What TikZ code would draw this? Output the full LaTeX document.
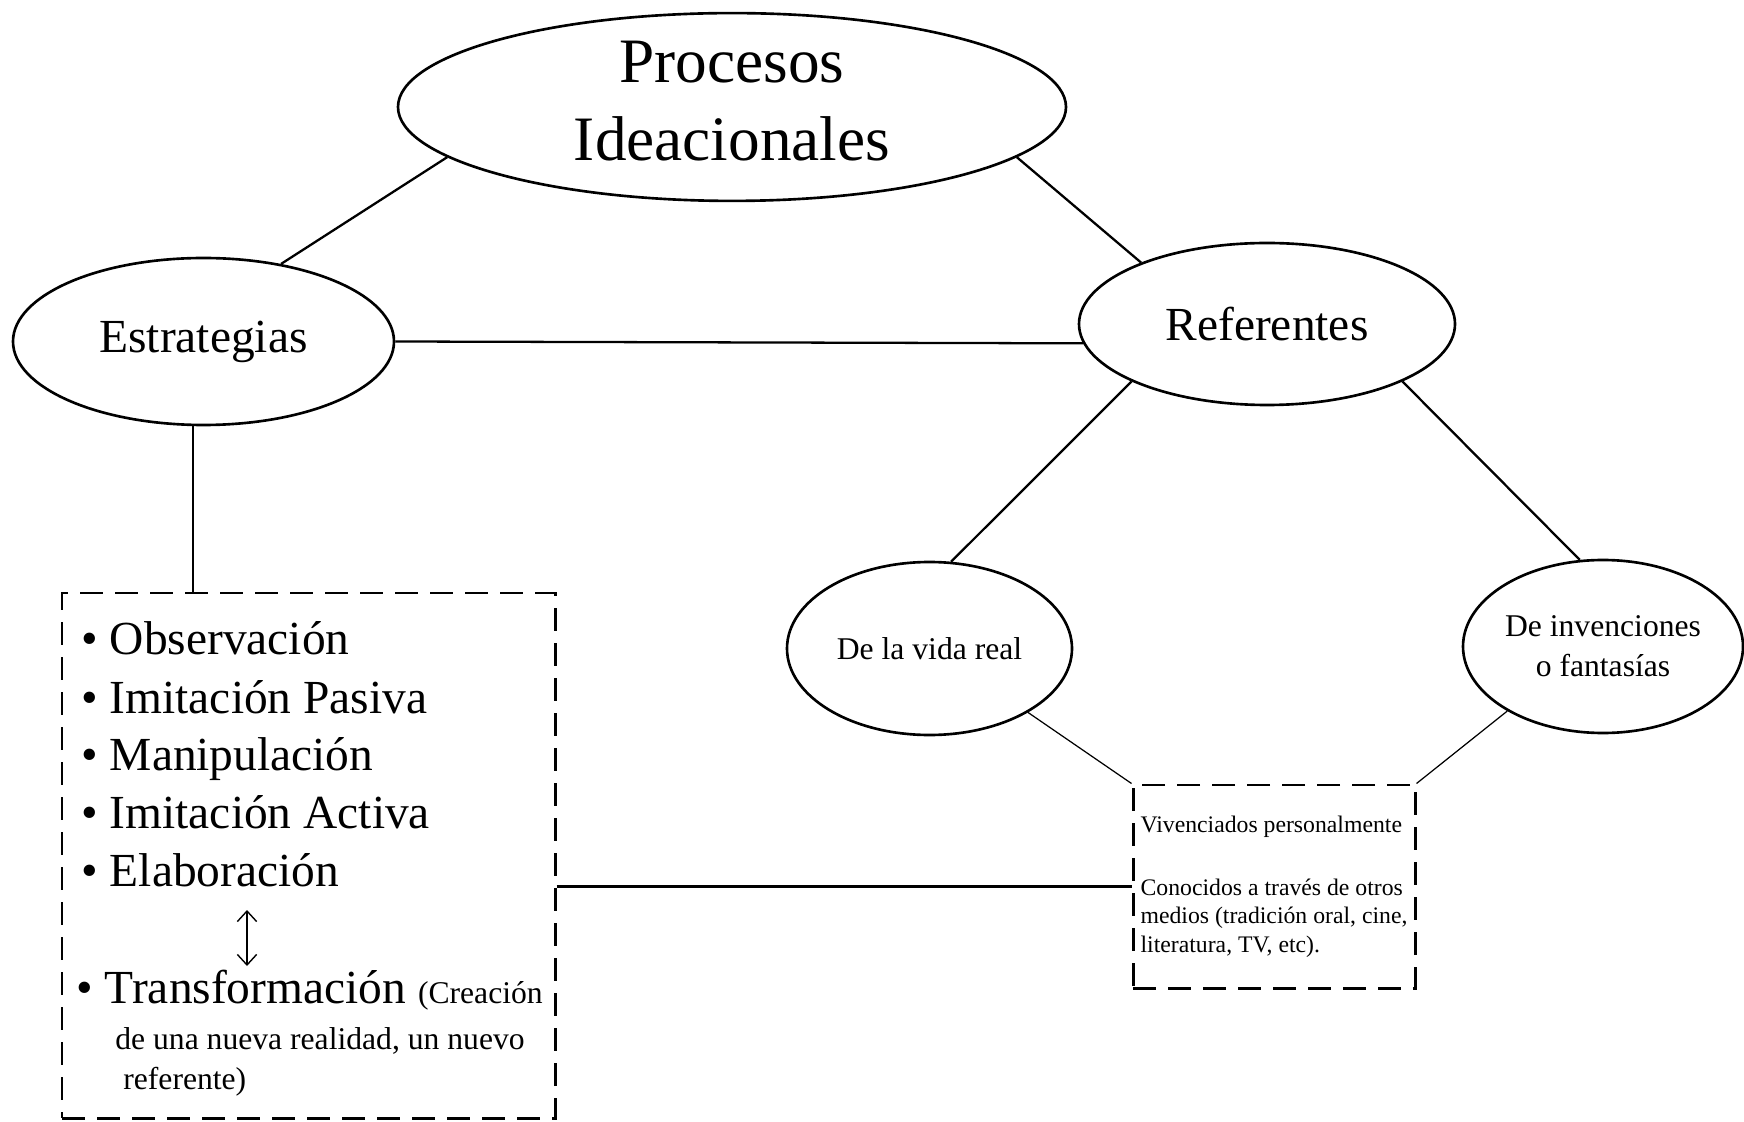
\documentclass[tikz,border=0pt]{standalone}
\usepackage{fontspec}
\setmainfont{Liberation Serif}
\usepackage{tikz}
\usetikzlibrary{shapes.geometric, arrows.meta}

\begin{document}
\begin{tikzpicture}[
        bubble/.style={ellipse, draw, line width=1.5pt, inner sep=0pt, align=center},
        dashbox/.style={rectangle, draw, line width=1.7pt, dash pattern=on 0.46cm off 0.24cm, inner sep=0pt},
        link/.style={line width=1.3pt},
        thinlink/.style={line width=0.7pt},
        item/.style={anchor=base west, inner sep=0pt, font=\fontsize{27}{33}\selectfont},
        smallitem/.style={anchor=base west, inner sep=0pt, font=\fontsize{18}{22.8}\selectfont}
    ]
        \useasboundingbox (0,0) rectangle (34.88,22.42);
        \node[bubble, minimum width=13.36cm, minimum height=3.68cm, font=\fontsize{36}{44.4}\selectfont] (Procesos) at (14.64,20.28) {Procesos\\Ideacionales\rule[-7.6pt]{0pt}{7.6pt}};
        \node[bubble, minimum width=7.62cm, minimum height=3.34cm, font=\fontsize{27}{33}\selectfont] (Estrategias) at (4.07,15.59) {Estrategias};
        \node[bubble, minimum width=7.52cm, minimum height=3.24cm, font=\fontsize{27}{33}\selectfont] (Referentes) at (25.34,15.94) {Referentes};
        \node[bubble, minimum width=5.70cm, minimum height=3.46cm, font=\fontsize{18}{22.8}\selectfont] (VidaReal) at (18.59,9.45) {De la vida real};
        \node[bubble, minimum width=5.60cm, minimum height=3.46cm, font=\fontsize{18}{22.8}\selectfont] (Invenciones) at (32.06,9.49) {De invenciones\\o fantasías};
        \node[dashbox, minimum width=9.86cm, minimum height=10.50cm] (Lista) at (6.17,5.31) { };
        \node[item] (Observacion) at (1.62,9.34) {• Observación};
        \node[item] (ImitPasiva) at (1.62,8.16) {• Imitación Pasiva};
        \node[item] (Manipulacion) at (1.62,7.02) {• Manipulación};
        \node[item] (ImitActiva) at (1.62,5.86) {• Imitación Activa};
        \node[item] (Elaboracion) at (1.62,4.70) {• Elaboración};
        \node[item] (Transformacion) at (1.52,2.36) {• Transformación {\fontsize{18}{22.8}\selectfont (Creación}};
        \node[smallitem] (Creacion) at (2.30,1.44) {de una nueva realidad, un nuevo};
        \node[smallitem] (Referente) at (2.46,0.64) {referente)};
        \node[dashbox, minimum width=5.64cm, minimum height=4.06cm, align=left, font=\fontsize{13.5}{16.2}\selectfont] (Medios) at (25.48,4.69) {Vivenciados personalmente\\[19.6pt]Conocidos a través de otros\\medios (tradición oral, cine,\\literatura, TV, etc).};
        \coordinate (FlechaA) at (4.94,4.22);
        \coordinate (FlechaB) at (4.94,3.10);
        \draw[link] (Procesos.190) -- (Estrategias.45);
        \draw[link] (Procesos.350) -- (Referentes.154);
        \draw[link] (Estrategias.east) -- (Referentes.186);
        \draw[link] (Estrategias.263) -- (Estrategias.263 |- Lista.north);
        \draw[link] (Referentes.203) -- (VidaReal.76);
        \draw[link] (Referentes.337) -- (Invenciones.105);
        \draw[thinlink] (VidaReal.327) -- (Medios.north west);
        \draw[thinlink] (Invenciones.214) -- (Medios.north east);
        \draw[link] (Lista.east |- Medios.west) -- (Medios.west);
        \draw[line width=0.8pt, {Straight Barb[length=6pt,width=11pt]}-{Straight Barb[length=6pt,width=11pt]}] (FlechaA) -- (FlechaB);
    \end{tikzpicture}
\end{document}
